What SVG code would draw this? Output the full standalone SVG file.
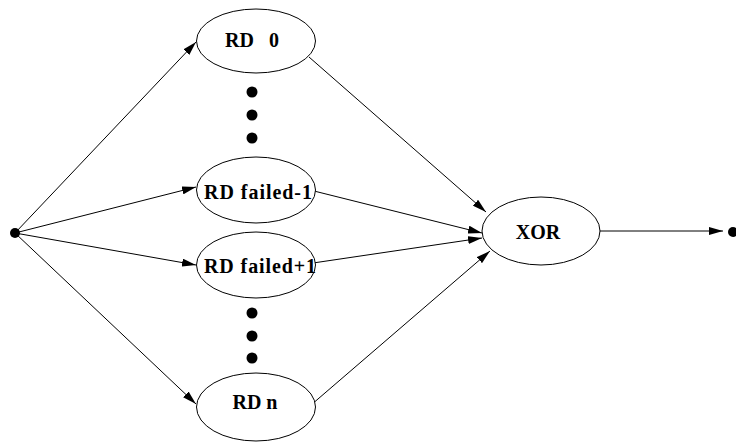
<svg xmlns="http://www.w3.org/2000/svg" width="736" height="444" viewBox="0 0 736 444">
  <defs>
    <marker id="arrow" viewBox="0 0 14 8" refX="14" refY="4" markerWidth="14" markerHeight="8" markerUnits="userSpaceOnUse" orient="auto">
      <path d="M0,0 L14,4 L0,8 Z" fill="#000"/>
    </marker>
    <style>
      .node ellipse { fill: #fff; stroke: #000; stroke-width: 1; }
      .node text { font-family: "Liberation Serif", "DejaVu Serif", serif; font-weight: bold; font-size: 20px; text-anchor: middle; dominant-baseline: central; fill: #000; }
      .edge { stroke: #000; stroke-width: 1; fill: none; marker-end: url(#arrow); }
      .dot { fill: #000; }
    </style>
  </defs>
  <rect width="736" height="444" fill="#fff"/>

  <g id="connectors">
    <line class="edge" x1="15" y1="233" x2="196" y2="42"/>
    <line class="edge" x1="15" y1="233" x2="196" y2="187"/>
    <line class="edge" x1="15" y1="233" x2="196" y2="265"/>
    <line class="edge" x1="15" y1="233" x2="196" y2="404"/>
    <line class="edge" x1="309" y1="57" x2="486" y2="212"/>
    <line class="edge" x1="314" y1="191" x2="482" y2="233"/>
    <line class="edge" x1="313" y1="263" x2="482" y2="238"/>
    <line class="edge" x1="311" y1="405" x2="490" y2="251"/>
    <line class="edge" x1="600" y1="231" x2="723" y2="231"/>
  </g>

  <g id="source"><circle class="dot" cx="15" cy="233" r="5"/></g>
  <g id="sink"><circle class="dot" cx="733" cy="232" r="5"/></g>

  <g id="ellipsis-upper">
    <circle class="dot" cx="252" cy="92" r="5.5"/>
    <circle class="dot" cx="252" cy="115" r="5.5"/>
    <circle class="dot" cx="252" cy="138" r="5.5"/>
  </g>
  <g id="ellipsis-lower">
    <circle class="dot" cx="252" cy="313" r="5.5"/>
    <circle class="dot" cx="252" cy="336" r="5.5"/>
    <circle class="dot" cx="252" cy="358" r="5.5"/>
  </g>

  <g id="rd0" class="node">
    <ellipse cx="256" cy="41" rx="59.5" ry="32"/>
    <text x="252" y="40" xml:space="preserve">RD   0</text>
  </g>
  <g id="rd-failed-minus-1" class="node">
    <ellipse cx="256" cy="190" rx="59.5" ry="33"/>
    <text x="258" y="192" textLength="108" lengthAdjust="spacing">RD failed-1</text>
  </g>
  <g id="rd-failed-plus-1" class="node">
    <ellipse cx="256" cy="265" rx="59.5" ry="33"/>
    <text x="260" y="266" textLength="112" lengthAdjust="spacing">RD failed+1</text>
  </g>
  <g id="rdn" class="node">
    <ellipse cx="256" cy="407" rx="59.5" ry="34"/>
    <text x="255" y="402">RD n</text>
  </g>
  <g id="xor" class="node">
    <ellipse cx="541" cy="231" rx="59" ry="34"/>
    <text x="538" y="232">XOR</text>
  </g>
</svg>
